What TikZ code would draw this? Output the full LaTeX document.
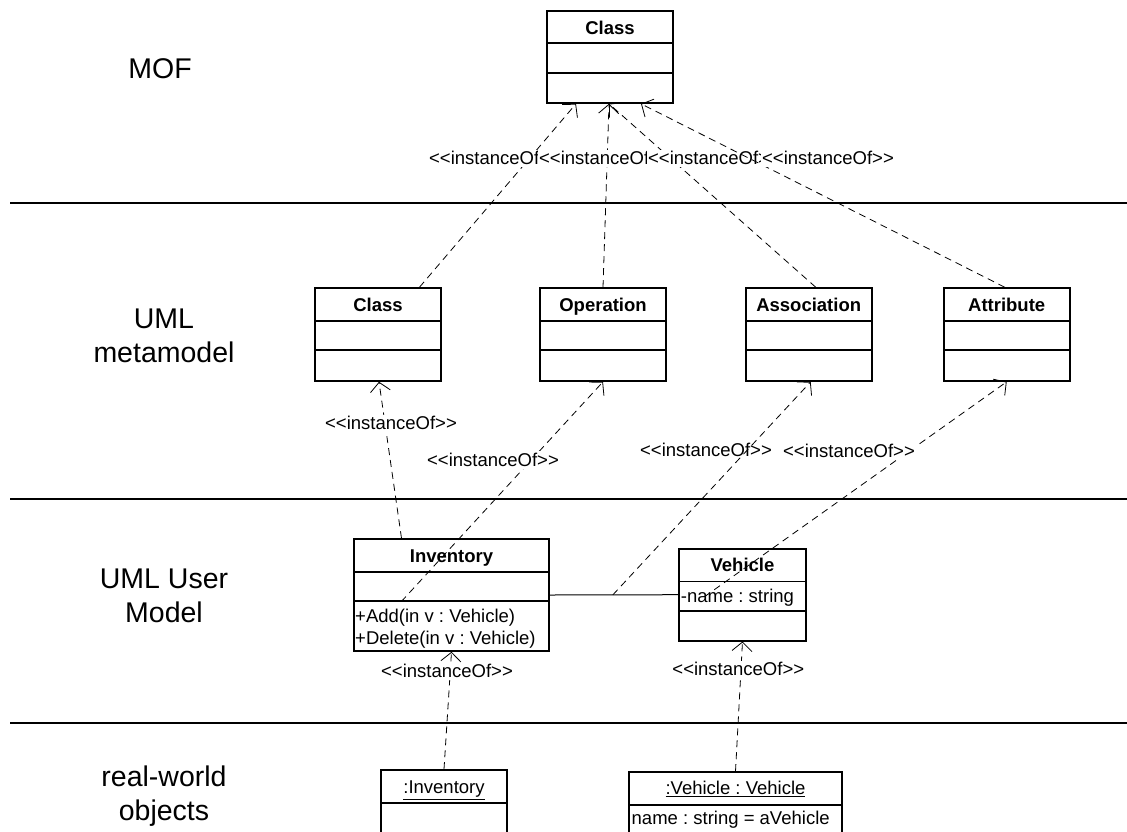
\documentclass[tikz,border=0pt]{standalone}
\usepackage{fontspec}
\setmainfont{Liberation Sans}
\usetikzlibrary{arrows.meta,calc}

% two compartment dividers of a class box, measured down from its top edge
\newcommand\umlsplit[3]{%
  \draw[divider] ([yshift=-#2]#1.north west) -- ([yshift=-#2]#1.north east);
  \draw[divider] ([yshift=-#3]#1.north west) -- ([yshift=-#3]#1.north east);}
% stereotype text; the kerns keep the angle brackets from turning into guillemets
\newcommand\instof{<\kern0pt<instanceOf>\kern0pt>}

\begin{document}
\frenchspacing
\begin{tikzpicture}[x=1pt,y=-1pt,
  umlbox/.style={draw, line width=1.6pt, inner sep=0pt},
  divider/.style={line width=1.6pt},
  cname/.style={font=\fontsize{18.5}{22}\selectfont\bfseries, inner sep=0pt, text height=13.3pt, text depth=0pt},
  ctext/.style={font=\fontsize{18.5}{22}\selectfont, inner sep=0pt, text height=13.3pt, text depth=0pt},
  stereo/.style={font=\fontsize{18.5}{22}\selectfont, fill=white, inner sep=1.5pt, text height=13.3pt, text depth=1pt},
  layer/.style={font=\fontsize{28.5}{34.5}\selectfont, align=center, inner sep=0pt},
  sepline/.style={line width=1.8pt},
  dep/.style={line width=0.8pt, dash pattern=on 7pt off 5pt,
    -{Straight Barb[length=9pt,width=20pt]}},
  assoc/.style={line width=1pt},
]
\path[use as bounding box] (0,0) rectangle (1127,831);
\clip (0,0) rectangle (1127,831);

% layer separators
\draw[sepline] (10,203) -- (1127,203);
\draw[sepline] (10,499) -- (1127,499);
\draw[sepline] (10,723) -- (1127,723);

% layer titles
\node[layer] (tmof) at (160,69) {MOF};
\node[layer] (tmeta) at (164,336) {UML\\metamodel};
\node[layer] (tuser) at (164,596) {UML User\\Model};
\node[layer] (treal) at (164,796) {real-world\\objects};

% MOF level
\node[umlbox, minimum width=126pt, minimum height=92pt] (mof) at (610,57) {};
\umlsplit{mof}{33pt}{63pt}
\node[cname] (mofname) at (610,27.5) {Class};

% UML metamodel level
\node[umlbox, minimum width=126pt, minimum height=93pt] (mmclass) at (378,334.5) {};
\node[umlbox, minimum width=126pt, minimum height=93pt] (mmop) at (603,334.5) {};
\node[umlbox, minimum width=126pt, minimum height=93pt] (mmassoc) at (808.7,334.5) {};
\node[umlbox, minimum width=126pt, minimum height=93pt] (mmattr) at (1006.7,334.5) {};
\umlsplit{mmclass}{34pt}{63pt}
\umlsplit{mmop}{34pt}{63pt}
\umlsplit{mmassoc}{34pt}{63pt}
\umlsplit{mmattr}{34pt}{63pt}
\node[cname] (nclass) at (378,305) {Class};
\node[cname] (nop) at (603,305) {Operation};
\node[cname] (nassoc) at (808.7,305) {Association};
\node[cname] (nattr) at (1006.7,305) {Attribute};

% user model level
\node[umlbox, minimum width=195pt, minimum height=112pt] (inv) at (451.5,595) {};
\umlsplit{inv}{33.7pt}{62.7pt}
\node[cname] (ninv) at (451.5,556.3) {Inventory};
\node[ctext, anchor=west] (opadd) at (355,615.8) {+Add(in v : Vehicle)};
\node[ctext, anchor=west] (opdel) at (355,637.5) {+Delete(in v : Vehicle)};

\node[umlbox, minimum width=126.5pt, minimum height=92pt] (veh) at (742.5,594.7) {};
\umlsplit{veh}{33.6pt}{63pt}
\node[cname] (nveh) at (742.5,564.7) {Vehicle};
\node[ctext, anchor=west] (aname) at (680.7,595.5) {-name : string};

\draw[assoc] (inv.east) -- coordinate[pos=0.49] (amid) (veh.west);

% real-world objects
\node[umlbox, minimum width=126pt, minimum height=120pt] (oinv) at (444,830) {};
\draw[divider] ([yshift=-34pt]oinv.north west) -- ([yshift=-34pt]oinv.north east);
\node[ctext] (noinv) at (444,787) {\underline{:Inventory}};
\node[umlbox, minimum width=213pt, minimum height=120pt] (oveh) at (735.5,832) {};
\draw[divider] ([yshift=-34pt]oveh.north west) -- ([yshift=-34pt]oveh.north east);
\node[ctext] (noveh) at (735.5,788) {\underline{:Vehicle : Vehicle}};
\node[ctext, anchor=west] (avname) at (631.5,818.3) {name : string = aVehicle};

% metamodel -> MOF
\draw[dep] ([xshift=41.5pt]mmclass.north) -- ([xshift=-34pt]mof.south);
\node[stereo] (s1) at (495,158.3) {\instof};
\draw[dep] (mmop.north) -- ([xshift=-1pt]mof.south);
\node[stereo] (s2) at (605,158.3) {\instof};
\draw[dep] ([xshift=7pt]mmassoc.north) -- ([xshift=-1pt]mof.south);
\node[stereo] (s3) at (714,158.3) {\instof};
\draw[dep] ([xshift=-2pt]mmattr.north) -- ([xshift=31pt]mof.south);
\node[stereo] (s4) at (828,158.3) {\instof};

% user model -> metamodel
\draw[dep] ([xshift=-50pt]inv.north) -- ([xshift=1pt]mmclass.south);
\node[stereo] (s5) at (391,423.3) {\instof};
\draw[dep] ([shift={(48pt,-6.7pt)}]inv.west) -- (mmop.south);
\node[stereo] (s6) at (493,460) {\instof};
\node[stereo] (s7) at (706,450) {\instof};
\draw[dep] (amid) -- ([xshift=2pt]mmassoc.south);
\draw[dep] ([shift={(26pt,-2pt)}]veh.west) -- (mmattr.south);
\node[stereo] (s8) at (849,451) {\instof};

% objects -> user model
\draw[dep] (oinv.north) -- (inv.south);
\node[stereo] (s9) at (447,671.7) {\instof};
\draw[dep] (oveh.north) -- (veh.south);
\node[stereo] (s10) at (738.3,669.2) {\instof};
\end{tikzpicture}
\end{document}
